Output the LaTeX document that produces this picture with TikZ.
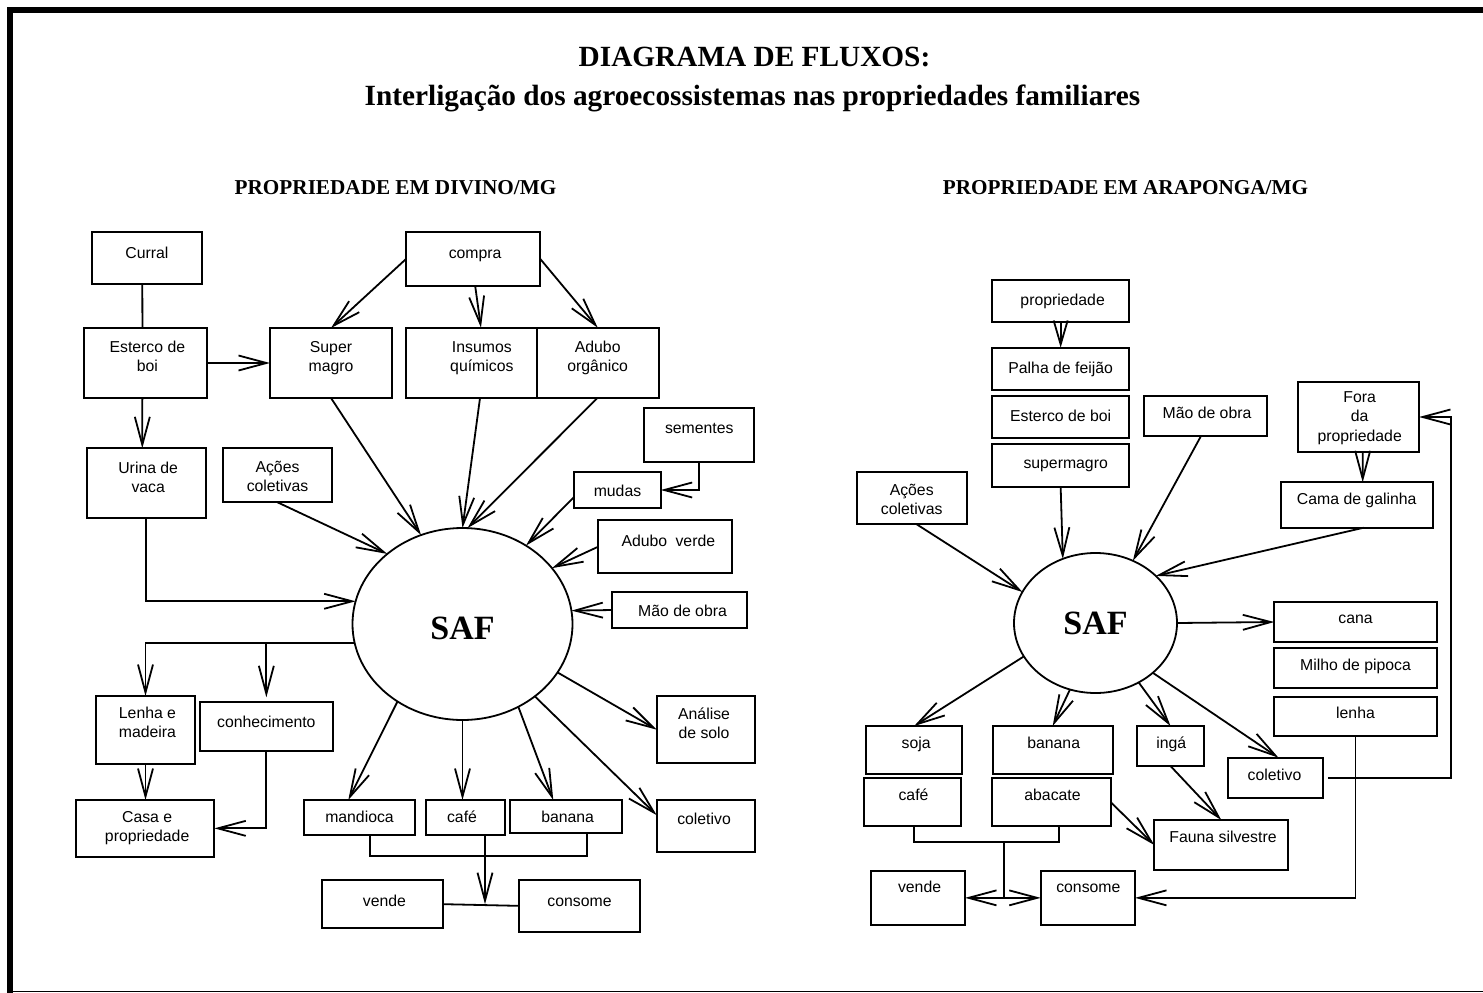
\documentclass[tikz,border=0pt]{standalone}
\usepackage{fontspec}
\setmainfont{Liberation Serif}
\newfontfamily\boxsans{Liberation Sans}
\usetikzlibrary{arrows.meta,shapes.geometric,calc}

% box given by its corners (x1,y1)-(x2,y2), text baseline y, text x shift
\newcommand{\flowbox}[8]{%
  \node[box, minimum width={#4-#2}, minimum height={#5-#3}] (#1) at ({(#2+#4)/2},{(#3+#5)/2}) {};
  \node[boxtext] (#1-t) at ({(#2+#4)/2+#8},{#6-13.65}) {\strut #7};
}

\tikzset{
  box/.style={draw, rectangle, line width=1.8pt, inner sep=0pt, outer sep=0pt},
  boxtext/.style={anchor=north, inner sep=0pt, outer sep=0pt, align=center,
    font=\boxsans\fontsize{15.8}{19.5}\selectfont},
  link/.style={line width=1.8pt},
  arr/.style={link, -{Straight Barb[length=28pt,width=15pt]}},
  arrshort/.style={link, -{Straight Barb[length=24pt,width=14pt]}},
  arrboth/.style={link, {Straight Barb[length=28pt,width=15pt]}-{Straight Barb[length=28pt,width=15pt]}},
  hub/.style={draw, ellipse, line width=1.8pt, inner sep=0pt, outer sep=0pt,
    font=\bfseries\fontsize{34}{40}\selectfont},
  heading/.style={anchor=base, inner sep=0pt, font=\bfseries\fontsize{29.3}{35}\selectfont},
  subheading/.style={anchor=base, inner sep=0pt, font=\bfseries\fontsize{21.2}{25}\selectfont},
}

\begin{document}
\begin{tikzpicture}[x=1pt, y=-1pt]
\useasboundingbox (0,0) rectangle (1483,993);

% frame
\draw[line width=6pt] (10.3,993) -- (10.3,10.3) -- (1483,10.3);
\draw[line width=1.5pt] (13,991.5) -- (1483,991.5);

% headings
\node[heading] (title1) at (754.5,66.7) {DIAGRAMA DE FLUXOS:};
\node[heading] (title2) at (752.5,105.5) {Interligação dos agroecossistemas nas propriedades familiares};
\node[subheading] (sub1) at (395.5,194) {PROPRIEDADE EM DIVINO/MG};
\node[subheading] (sub2) at (1125.5,194) {PROPRIEDADE EM ARAPONGA/MG};

% ---------------- Divino ----------------
\node[hub, minimum width=220pt, minimum height=192pt, text height=30pt, text depth=0pt] (saf) at (462.5,624) {SAF};

\flowbox{curral}{92}{232}{202}{284}{258.5}{Curral}{0}
\flowbox{esterco}{84}{328}{206.7}{398}{352.3}{Esterco de\\boi}{2}
\flowbox{supermagroL}{270}{328}{392}{398}{352.3}{Super\\magro}{0}
\flowbox{urina}{86.7}{448.3}{205.7}{518}{473.3}{Urina de\\vaca}{2}
\flowbox{acoesL}{222.7}{448.3}{332.3}{502.3}{472.3}{Ações\\coletivas}{0}
\flowbox{compra}{406}{232.3}{540.3}{285.7}{258.5}{compra}{2}
\flowbox{insumos}{406}{327.7}{536.7}{397.7}{352.3}{Insumos\\químicos}{10.5}
\flowbox{aduboorg}{536.7}{327.7}{658.7}{397.7}{352.3}{Adubo\\orgânico}{0}
\flowbox{sementes}{644.3}{408.3}{754.3}{461.7}{433.3}{sementes}{0}
\flowbox{mudas}{574.3}{472.3}{660.7}{507.7}{496}{mudas}{0}
\flowbox{aduboverde}{598.3}{520}{732.3}{573.3}{546}{Adubo\hspace{4pt} verde}{3}
\flowbox{maoL}{612.3}{592.3}{746.7}{627.7}{616}{Mão de obra}{3}
\flowbox{lenhaL}{96}{696}{195}{764.3}{718.3}{Lenha e\\madeira}{2}
\flowbox{conhec}{200}{702.3}{332.7}{750.7}{727.7}{conhecimento}{0}
\flowbox{casa}{76}{800}{214.3}{856.7}{822}{Casa e\\propriedade}{2}
\flowbox{mandioca}{304}{800}{415}{835}{822.3}{mandioca}{0}
\flowbox{cafeL}{426}{800}{505}{835}{822.3}{café}{-3.5}
\flowbox{bananaL}{510}{800}{622.3}{832.7}{822.3}{banana}{1.5}
\flowbox{analise}{656.7}{696}{755}{763.3}{719.3}{Análise\\de solo}{-1.8}
\flowbox{coletivoL}{656.7}{800}{755}{852.3}{824}{coletivo}{-1.8}
\flowbox{vendeL}{322.3}{880}{442.7}{928.3}{906}{vende}{2}
\flowbox{consomeL}{519}{880}{640}{931.7}{906}{consome}{0}

% inputs
\draw[link] ($(curral.south)+(-4.7,0)$) -- ($(esterco.north)+(-2.9,0)$);
\draw[arr] ($(esterco.south)+(-3,0)$) -- ($(urina.north)+(-3.9,0)$);
\draw[arr] (esterco.east) -- (supermagroL.west);
\draw[arr] (compra.west) -- (supermagroL.north);
\draw[arr] ($(compra.south)+(2,0)$) -- ($(insumos.north)+(9.6,0)$);
\draw[arr] (compra.east) -- (aduboorg.north);
\draw[arr] (supermagroL.south) -- (saf.115.5);
\draw[arr] ($(insumos.south)+(8.7,0)$) -- (saf.90);
\draw[arr] (aduboorg.south) -- (saf.87);
\draw[arr] (sementes.south) |- (mudas.east);
\draw[arr] ($(mudas.west)+(0,6.7)$) -- (saf.51);
\draw[arr] (aduboverde.west) -- (saf.32);
\draw[arr] (maoL.west) -- (saf.7);
\draw[arr] (acoesL.south) -- (saf.137);
\draw[arr] (urina.south) |- (saf.168.5);

% outputs
\draw[arr] (saf.190.5) -| (lenhaL.north);
\draw[arr] (saf.190.5 -| conhec.north) -- ($(conhec.north)+(0,-5)$);
\draw[arr] (lenhaL.south) -- (lenhaL.south |- casa.north);
\draw[arr] (conhec.south) |- (casa.east);
\draw[arr] (saf.230.6) -- ($(mandioca.north)+(-11.2,0)$);
\draw[arr] (saf.south) -- (saf.south |- cafeL.north);
\draw[arr] (saf.304.6) -- ($(bananaL.north)+(-12.9,0)$);
\draw[arr] (saf.315.6) -- ($(coletivoL.west)+(0,-11)$);
\draw[arr] (saf.333.7) -- (analise.west);
\draw[link] ($(mandioca.south)+(10.5,0)$) -- ++(0,21) -| ($(bananaL.south)+(20.5,0)$);
\coordinate (cafeout) at ($(cafeL.south)+(19.5,0)$);
\draw[arr] (cafeout) -- (cafeout |- vendeL.east);
\draw[link] (vendeL.east) -- (consomeL.west);

% ---------------- Araponga ----------------
\node[hub, minimum width=163pt, minimum height=140pt] (safR) at (1095.5,623) {SAF};

\flowbox{prop}{992.3}{280}{1129}{322.3}{305}{propriedade}{2}
\flowbox{palha}{992.3}{347.7}{1129}{390}{373.3}{Palha de feijão}{0}
\flowbox{estercoR}{992.3}{395.7}{1129}{438.3}{421.7}{Esterco de boi}{0}
\flowbox{supermagroR}{992.3}{444}{1129}{486.7}{468.3}{supermagro}{5}
\flowbox{maoR}{1144.3}{395.7}{1266.7}{436}{418.3}{Mão de obra}{1.5}
\flowbox{acoesR}{856.7}{472.3}{966.7}{524.3}{495}{Ações\\coletivas}{0}
\flowbox{fora}{1298.3}{382.3}{1419}{451.7}{402.3}{Fora\\da\\propriedade}{1}
\flowbox{cama}{1280.7}{482.3}{1432.7}{527.7}{504.3}{Cama de galinha}{0}
\flowbox{cana}{1274.3}{602.3}{1436.7}{641.7}{623.3}{cana}{0}
\flowbox{milho}{1274.3}{648.3}{1436.7}{687.7}{670}{Milho de pipoca}{0}
\flowbox{lenhaR}{1274.3}{696.7}{1436.7}{736}{718.3}{lenha}{0}
\flowbox{coletivoR}{1228.3}{757.7}{1322.7}{797.7}{780}{coletivo}{-1}
\flowbox{soja}{866}{726}{962.3}{774.3}{748.3}{soja}{2}
\flowbox{bananaR}{992.7}{726}{1112.7}{774.3}{748.3}{banana}{1}
\flowbox{inga}{1136.7}{726}{1204.3}{766}{748.3}{ingá}{0.7}
\flowbox{cafeR}{864.3}{778.3}{960.7}{826}{800.7}{café}{1}
\flowbox{abacate}{992.3}{778.3}{1110.7}{826}{800.7}{abacate}{1}
\flowbox{fauna}{1154.3}{820}{1288.3}{870}{842.3}{Fauna silvestre}{1.7}
\flowbox{vendeR}{870.7}{870.7}{965}{925}{892.7}{vende}{1.7}
\flowbox{consomeR}{1040.7}{870.7}{1135}{925}{892.7}{consome}{0.5}

% inputs
\draw[arrshort] (prop.south) -- (palha.north);
\draw[arr] (supermagroR.south) -- (safR.117);
\draw[arr] ($(maoR.south)+(-4.5,0)$) -- (safR.59);
\draw[arr] ($(acoesR.south)+(5,0)$) -- (safR.157.6);
\draw[arr] ($(fora.south)+(4,0)$) -- ($(cama.north)+(6,0)$);
\draw[arr] ($(cama.south)+(7,0)$) -- (safR.38.8);

% outputs
\draw[arr] (safR.east) -- (cana.west);
\draw[arr] (safR.319) -- ($(coletivoR.north)+(3,0)$);
\draw[arr] (safR.306.6) -- (inga.north);
\draw[arr] (safR.249.7) -- (bananaR.north);
\draw[arr] (safR.205.4) -- (soja.north);
\draw[arr] (inga.south) -- (fauna.north);
\draw[arr] (abacate.east) -- (fauna.west);
\draw[link] ($(cafeR.south)+(1.8,0)$) -- ++(0,16.3) -| ($(abacate.south)+(7.5,0)$);
\coordinate (jr) at ($(cafeR.south)+(91.8,16.3)$);
\draw[link] (jr) -- (jr |- vendeR.east);
\draw[arrboth] (vendeR.east) -- (consomeR.west);
\draw[arr] (lenhaR.south) |- (consomeR.east);
\draw[arr] ($(coletivoR.east)+(5.6,0)$) -| ($(fora.east)+(31.7,0)$) -- (fora.east);
\end{tikzpicture}
\end{document}
